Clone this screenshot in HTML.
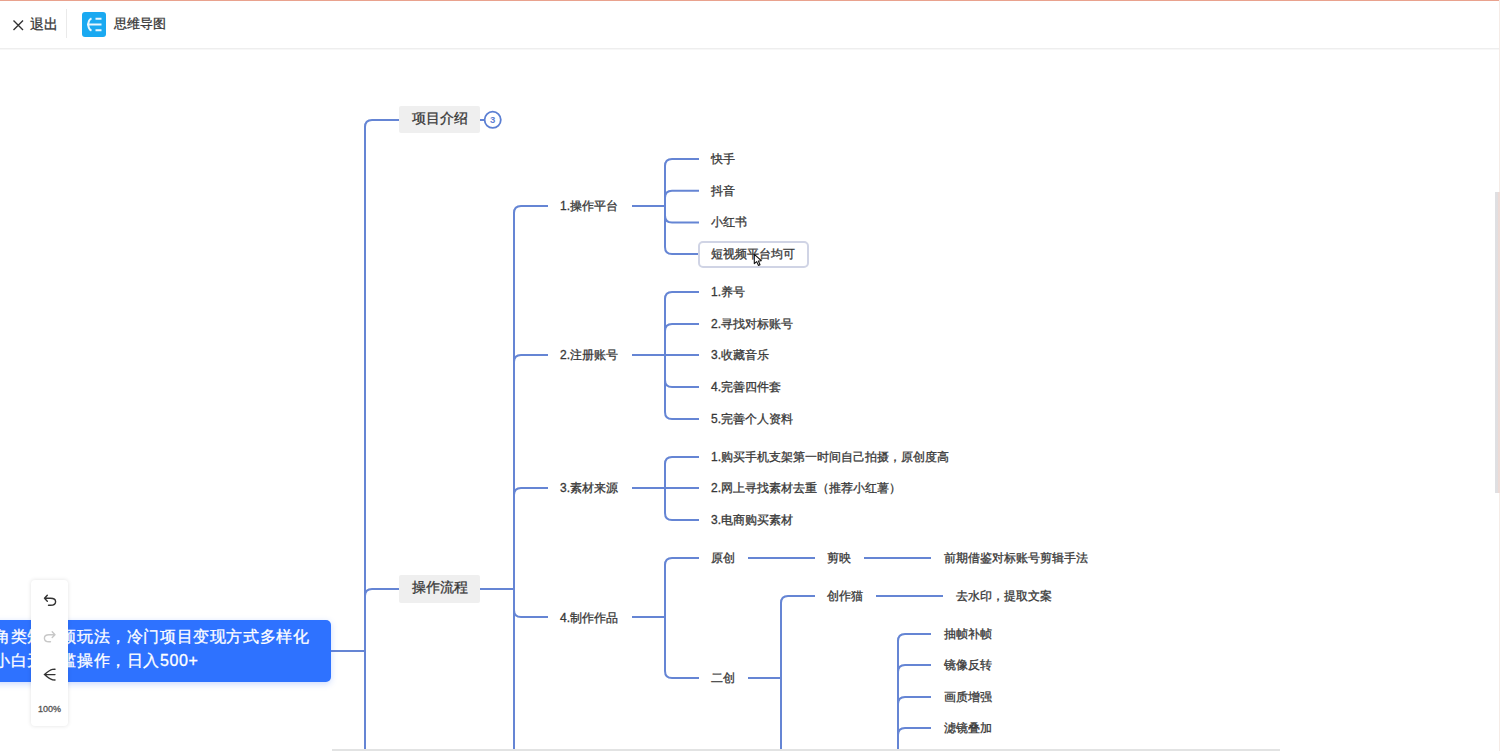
<!DOCTYPE html>
<html><head><meta charset="utf-8">
<style>
@font-face{font-family:"LSX";src:local("Liberation Sans"),local("LiberationSans"),local("LiberationSans-Regular");size-adjust:133.33%;unicode-range:U+2E80-9FFF,U+F900-FAFF,U+FE30-FE4F,U+FF00-FFEF;}
html,body{margin:0;padding:0;width:1500px;height:751px;overflow:hidden;background:#fff;font-family:"Liberation Sans",sans-serif;}
.abs{position:absolute;}
#topline{left:0;top:0;width:1500px;height:1px;background:#e9a28e;}
#header{left:0;top:1px;width:1500px;height:47px;background:#fff;border-bottom:1px solid #eeeeee;box-shadow:0 1px 0 #f7f7f7;}
.t{position:absolute;white-space:nowrap;color:#383838;line-height:normal;-webkit-text-stroke-width:0.3px;font-family:"LSX","Liberation Sans",sans-serif;}
.l3{font-size:12px;}
.l2{font-size:12px;}
.l1{font-size:14px;}
.box1{position:absolute;background:#efefef;border-radius:2px;}
svg{position:absolute;left:0;top:0;}
</style></head>
<body>
<div class="abs" id="topline"></div>
<div class="abs" id="header"></div>

<!-- header items -->
<svg width="1500" height="48" style="left:0;top:0">
  <path d="M13.5 20.5 L23 30 M23 20.5 L13.5 30" stroke="#333" stroke-width="1.4" fill="none"/>
  <rect x="66" y="9" width="1" height="29" fill="#eaeaea"/>
  <rect x="82" y="12" width="24" height="25" rx="3" fill="#1aa9f1"/>
  <path d="M91.5 18.3 Q88.3 20 88.3 24.5 Q88.3 29 91.5 30.7" stroke="#eaf7fe" stroke-width="2" fill="none"/><path d="M95.5 18.7 H101.5 M87 24.4 H101.5 M95.5 30.3 H101.5" stroke="#eaf7fe" stroke-width="2" fill="none"/>
</svg>
<div class="t" style="left:30px;top:16px;font-size:13.5px;">退出</div>
<div class="t" style="left:114px;top:15px;font-size:13px;">思维导图</div>

<!-- lines -->
<svg width="1500" height="751" style="left:0;top:0">
<g stroke="#6585d4" stroke-width="2" fill="none" stroke-linecap="butt">
  <path d="M330 651 H365"/>
  <path d="M365 651 V127 Q365 120 372 120 H399"/>
  <path d="M365 651 V596 Q365 589 372 589 H399"/>
  <path d="M365 651 V751"/>
  <path d="M480 120 H484"/>
  <path d="M480 589 H514"/>
  <path d="M514 589 V213 Q514 206 521 206 H548"/>
  <path d="M514 589 V362 Q514 355 521 355 H548"/>
  <path d="M514 589 V495 Q514 488 521 488 H548"/>
  <path d="M514 589 V610 Q514 617 521 617 H548"/>
  <path d="M514 589 V751"/>
  <path d="M632 206 H665"/>
  <path d="M665 206 V166 Q665 159 672 159 H699"/>
  <path d="M665 206 V197.8 Q665 190.8 672 190.8 H699"/>
  <path d="M665 206 V215.4 Q665 222.4 672 222.4 H699"/>
  <path d="M665 206 V247 Q665 254 672 254 H699"/>
  <path d="M632 355 H665"/>
  <path d="M665 355 V299 Q665 292 672 292 H699"/>
  <path d="M665 355 V331 Q665 324 672 324 H699"/>
  <path d="M665 355 H699"/>
  <path d="M665 355 V380 Q665 387 672 387 H699"/>
  <path d="M665 355 V412 Q665 419 672 419 H699"/>
  <path d="M632 488 H665"/>
  <path d="M665 488 V464 Q665 457 672 457 H699"/>
  <path d="M665 488 H699"/>
  <path d="M665 488 V513 Q665 520 672 520 H699"/>
  <path d="M632 617 H665"/>
  <path d="M665 617 V565 Q665 558 672 558 H699"/>
  <path d="M665 617 V671 Q665 678 672 678 H699"/>
  <path d="M748 558 H815"/>
  <path d="M864 558 H931"/>
  <path d="M748 678 H781"/>
  <path d="M781 678 V603 Q781 596 788 596 H815"/>
  <path d="M781 678 V751"/>
  <path d="M876 596 H943"/>
  <path d="M898 760 V641 Q898 634 905 634 H931"/>
  <path d="M898 760 V672 Q898 665 905 665 H931"/>
  <path d="M898 760 V704 Q898 697 905 697 H931"/>
  <path d="M898 760 V735 Q898 728 905 728 H931"/>
</g>
<circle cx="492.7" cy="119.8" r="8.1" fill="#fff" stroke="#5b7fd3" stroke-width="1.8"/>
<text x="492.7" y="123" font-size="9.5" font-weight="bold" fill="#5b7fd3" text-anchor="middle" font-family="Liberation Sans">3</text>
</svg>

<!-- level1 boxes -->
<div class="box1" style="left:399px;top:106px;width:81px;height:27px;"></div>
<div class="t l1" style="left:412px;top:110px;">项目介绍</div>
<div class="box1" style="left:399px;top:575px;width:81px;height:28px;"></div>
<div class="t l1" style="left:412px;top:579px;">操作流程</div>

<!-- level2 -->
<div class="t l2" style="left:560px;top:198px;">1.操作平台</div>
<div class="t l2" style="left:560px;top:347px;">2.注册账号</div>
<div class="t l2" style="left:560px;top:480px;">3.素材来源</div>
<div class="t l2" style="left:560px;top:610px;">4.制作作品</div>

<!-- leaves -->
<div class="t l3" style="left:711px;top:151px;">快手</div>
<div class="t l3" style="left:711px;top:183px;">抖音</div>
<div class="t l3" style="left:711px;top:214px;">小红书</div>
<div class="abs" style="left:698px;top:241px;width:106.5px;height:23px;border:2px solid #d0d4e5;border-radius:5px;background:#fff;"></div>
<div class="t l3" style="left:711px;top:246px;">短视频平台均可</div>

<div class="t l3" style="left:711px;top:284px;">1.养号</div>
<div class="t l3" style="left:711px;top:316px;">2.寻找对标账号</div>
<div class="t l3" style="left:711px;top:347px;">3.收藏音乐</div>
<div class="t l3" style="left:711px;top:379px;">4.完善四件套</div>
<div class="t l3" style="left:711px;top:411px;">5.完善个人资料</div>

<div class="t l3" style="left:711px;top:449px;">1.购买手机支架第一时间自己拍摄，原创度高</div>
<div class="t l3" style="left:711px;top:480px;">2.网上寻找素材去重（推荐小红薯）</div>
<div class="t l3" style="left:711px;top:512px;">3.电商购买素材</div>

<div class="t l3" style="left:711px;top:550px;">原创</div>
<div class="t l3" style="left:711px;top:670px;">二创</div>
<div class="t l3" style="left:827px;top:550px;">剪映</div>
<div class="t l3" style="left:944px;top:550px;">前期借鉴对标账号剪辑手法</div>
<div class="t l3" style="left:827px;top:588px;">创作猫</div>
<div class="t l3" style="left:956px;top:588px;">去水印，提取文案</div>
<div class="t l3" style="left:944px;top:626px;">抽帧补帧</div>
<div class="t l3" style="left:944px;top:657px;">镜像反转</div>
<div class="t l3" style="left:944px;top:689px;">画质增强</div>
<div class="t l3" style="left:944px;top:720px;">滤镜叠加</div>

<!-- root -->
<div class="abs" style="left:-10px;top:620px;width:340.5px;height:61.5px;background:#2e72ff;border-radius:5px;box-shadow:0 2px 6px rgba(51,112,255,0.25);"></div>
<div class="t" style="left:-6px;top:627px;font-size:16px;letter-spacing:0.6px;color:#fff;">角类短视频玩法，冷门项目变现方式多样化</div>
<div class="t" style="left:-6px;top:650.5px;font-size:16px;letter-spacing:0.6px;color:#fff;">小白无门槛操作，日入500+</div>

<!-- toolbar -->
<div class="abs" style="left:31px;top:580px;width:37px;height:146px;background:#fff;border-radius:4px;box-shadow:0 0 4px rgba(0,0,0,0.12);"></div>
<svg width="1500" height="751" style="left:0;top:0">
  <path d="M47.3 595.3 L44.5 598.3 L47.3 601.2 M44.5 598.3 H50.5 Q55.6 598.3 55.6 601.8 Q55.6 605.3 50.5 605.3 H48.5" stroke="#333" stroke-width="1.4" fill="none" stroke-linecap="round" stroke-linejoin="round"/>
  <path d="M52.2 631.7 L55 634.7 L52.2 637.6 M55 634.7 H49 Q44.4 634.7 44.4 638.2 Q44.4 641.7 49 641.7 H50.5" stroke="#c8c8c8" stroke-width="1.4" fill="none" stroke-linecap="round" stroke-linejoin="round"/>
  <path d="M55 669.2 L52.5 669.4 Q49.5 670 44.5 674.6 Q49.5 679.2 52.5 679.8 L55 680 M44.5 674.6 H55" stroke="#333" stroke-width="1.4" fill="none" stroke-linecap="round"/>
</svg>
<div class="t" style="left:38px;top:704px;font-size:9px;color:#555;">100%</div>

<!-- scrollbars -->
<div class="abs" style="left:1499px;top:0;width:1px;height:751px;background:#f5ebe6;"></div>
<div class="abs" style="left:1495px;top:192px;width:5px;height:301px;background:linear-gradient(90deg,#dfe0e3 0,#e0dfe1 55%,#ecdbd7 60%,#eedbd6 100%);"></div>
<div class="abs" style="left:332px;top:749px;width:948px;height:2px;background:#e2e3e3;"></div>

<!-- cursor -->
<svg width="1500" height="751" style="left:0;top:0">
  <path d="M754.3 254.3 L754.3 263.6 L756.7 261.6 L758.4 265.4 L760 264.7 L758.4 261 L761.3 260.7 Z" fill="#fff" stroke="#111" stroke-width="1.1" stroke-linejoin="round"/>
</svg>
</body></html>
